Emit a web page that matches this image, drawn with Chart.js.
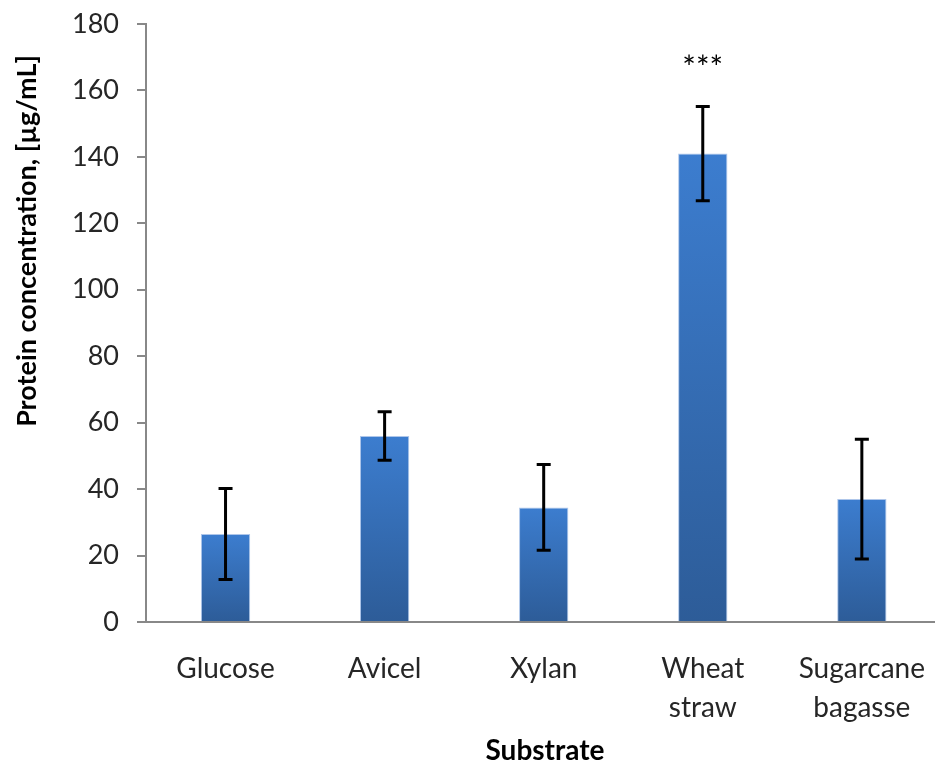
<!DOCTYPE html>
<html>
<head>
<meta charset="utf-8">
<script src="https://cdn.jsdelivr.net/npm/chart.js@4.4.1/dist/chart.umd.min.js"></script>
<style>
    html, body { margin: 0; padding: 0; background: #fff; overflow: hidden; }
    #wrap { width: 944px; height: 767px; }
</style>
</head>
<body>
<div id="wrap"><canvas id="proteinChart"></canvas></div>
<script>
const substrates = ["Glucose", "Avicel", "Xylan", ["Wheat", "straw"], ["Sugarcane", "bagasse"]];
const proteinMean = [26.5, 56, 34.5, 141, 37];
const proteinSD = [13.7, 7.3, 12.9, 14.2, 18];
const significance = ["", "", "", "***", ""];
const yTicks = [0, 20, 40, 60, 80, 100, 120, 140, 160, 180];

const textColor = "#262626";
const axisColor = "#888888";
const fontFamily = "Lato, 'Open Sans', sans-serif";

// error bars + stars + axis titles
const extrasPlugin = {
    id: 'extras',
    afterDatasetsDraw(chart) {
        const ctx = chart.ctx;
        const meta = chart.getDatasetMeta(0);
        const yScale = chart.scales.y;
        ctx.save();
        ctx.strokeStyle = "#000";
        ctx.lineWidth = 3;
        meta.data.forEach((bar, i) => {
            const x = bar.x;
            const top = yScale.getPixelForValue(proteinMean[i] + proteinSD[i]);
            const bottom = yScale.getPixelForValue(proteinMean[i] - proteinSD[i]);
            ctx.beginPath();
            ctx.moveTo(x, top);
            ctx.lineTo(x, bottom);
            ctx.moveTo(x - 7, top);
            ctx.lineTo(x + 7, top);
            ctx.moveTo(x - 7, bottom);
            ctx.lineTo(x + 7, bottom);
            ctx.stroke();
            if (significance[i]) {
                ctx.fillStyle = "#000";
                ctx.font = "32px " + fontFamily;
                ctx.textAlign = "center";
                ctx.textBaseline = "middle";
                ctx.fillText(significance[i], x, top - 38);
            }
        });
        ctx.restore();
    },
    afterDraw(chart) {
        const ctx = chart.ctx;
        ctx.save();
        ctx.fillStyle = "#000";
        ctx.font = "bold 28px " + fontFamily;
        ctx.textAlign = "center";
        ctx.textBaseline = "middle";
        ctx.fillText("Substrate", 545, 751);
        ctx.font = "bold 27px " + fontFamily;
        ctx.translate(27, 241);
        ctx.rotate(-Math.PI / 2);
        ctx.fillText("Protein concentration, [µg/mL]", 0, 0);
        ctx.restore();
    }
};

// each bar gets its own top-to-bottom shading
function barGradient(context) {
    const chart = context.chart;
    const area = chart.chartArea;
    if (!area || context.type !== 'data') return "#3a76c4";
    const y = chart.scales.y;
    const top = y.getPixelForValue(proteinMean[context.dataIndex]);
    const g = chart.ctx.createLinearGradient(0, top, 0, area.bottom);
    g.addColorStop(0, "#3c7dcf");
    g.addColorStop(1, "#2d5c98");
    return g;
}

const ctx = document.getElementById('proteinChart').getContext('2d');
const proteinChart = new Chart(ctx, {
    type: 'bar',
    data: {
        labels: substrates,
        datasets: [{
            label: 'Protein concentration',
            data: proteinMean,
            backgroundColor: barGradient,
            borderColor: "rgba(120,160,220,0.6)",
            borderWidth: 1,
            barPercentage: 0.31,
            categoryPercentage: 1
        }]
    },
    options: {
        responsive: true,
        maintainAspectRatio: false,
        animation: false,
        layout: { padding: { top: 24, right: 0, bottom: 0, left: 0 } },
        plugins: {
            legend: { display: false },
            tooltip: { enabled: false }
        },
        scales: {
            x: {
                grid: { display: false },
                border: { display: true, color: axisColor, width: 2 },
                ticks: {
                    color: textColor,
                    font: { family: fontFamily, size: 28, lineHeight: 1.4 },
                    padding: 19,
                    maxRotation: 0,
                    autoSkip: false
                },
                afterFit(scale) { scale.height = 145; }
            },
            y: {
                min: 0,
                max: 180,
                afterBuildTicks(scale) { scale.ticks = yTicks.map(v => ({ value: v })); },
                grid: {
                    drawOnChartArea: false,
                    drawTicks: true,
                    tickLength: 9,
                    color: axisColor,
                    lineWidth: 2
                },
                border: { display: true, color: axisColor, width: 2 },
                ticks: {
                    color: textColor,
                    font: { family: fontFamily, size: 27 },
                    padding: 18
                },
                afterFit(scale) {
                    scale.width = 146;
                    scale.paddingTop = 0;
                    scale.paddingBottom = 0;
                }
            }
        }
    },
    plugins: [extrasPlugin]
});
</script>
</body>
</html>
